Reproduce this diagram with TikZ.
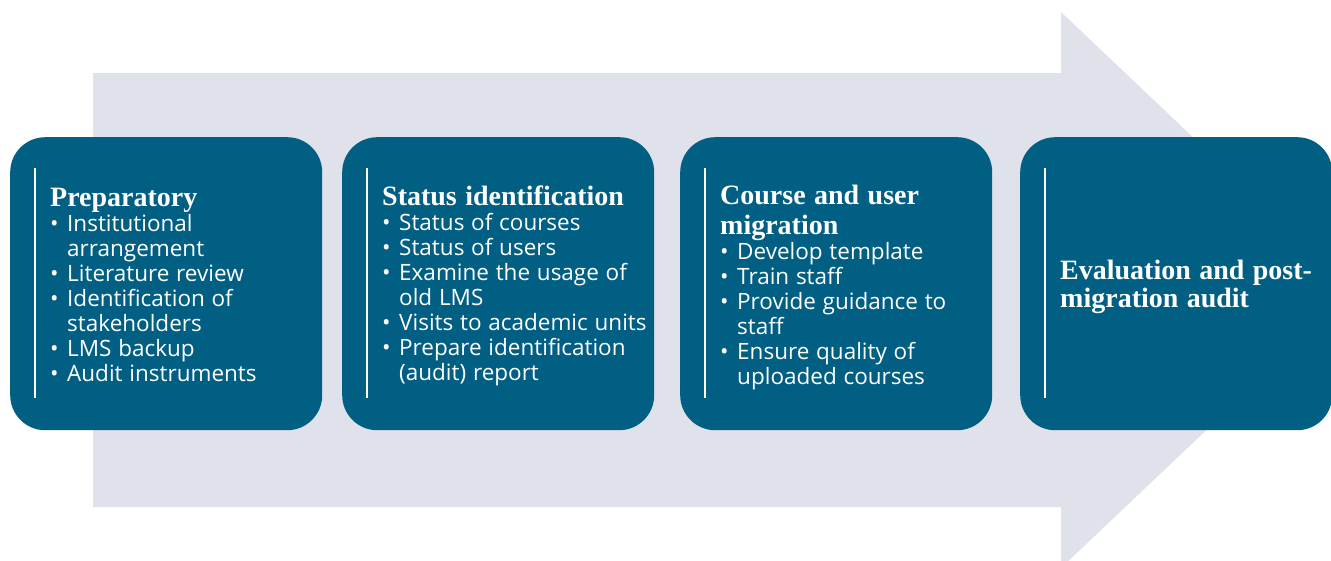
\documentclass[tikz,border=0pt]{standalone}
\usepackage{fontspec}
\setmainfont{Open Sans}
\newfontfamily\headfont{Liberation Serif}
\definecolor{boxblue}{HTML}{005F83}
\definecolor{arrowgray}{HTML}{DFE2EA}
\newcommand{\hd}[2][28]{{\headfont\bfseries\fontsize{28}{#1}\selectfont\spaceskip=0.3em\relax\noindent\rule{0pt}{20pt}#2\par}}
\newcommand{\itm}[1]{\par\fontsize{22.5}{25}\selectfont\spaceskip=0.3em\relax\hangindent=17pt\hangafter=1\noindent\makebox[17pt][l]{•}#1}
\tikzset{
  stage/.style={fill=boxblue, rounded corners=35pt, minimum width=312pt, minimum height=293pt, anchor=north west, inner sep=0pt},
  vline/.style={draw=white, line width=2pt},
  stagetext/.style={anchor=north west, inner sep=0pt, text width=290pt, text=white},
}
\begin{document}
\begin{tikzpicture}[x=1pt,y=-1pt]
\useasboundingbox (0,0) rectangle (1331,560);
\clip (0,0) rectangle (1331,560);
% big arrow
\fill[arrowgray] (93,73) -- (1061,73) -- (1061,12) -- (1354,290) -- (1061,568) -- (1061,507) -- (93,507) -- cycle;
% boxes
\node[stage] (b1) at (10,137) {};
\node[stage] (b2) at (342,137) {};
\node[stage] (b3) at (680,137) {};
\node[stage] (b4) at (1020,137) {};
\foreach \b in {b1,b2,b3,b4}{
  \draw[vline] ([xshift=25pt,yshift=-31pt]\b.north west) -- ([xshift=25pt,yshift=32pt]\b.south west);
}
\node[stagetext] (t1) at ([xshift=40pt,yshift=-49pt]b1.north west) {%
\hd{Preparatory}%
\itm{Institutional\newline arrangement}
\itm{Literature review}
\itm{Identification of\newline stakeholders}
\itm{LMS backup}
\itm{Audit instruments}\par};
\node[stagetext] (t2) at ([xshift=40pt,yshift=-48pt]b2.north west) {%
\hd{Status identification}%
\itm{Status of courses}
\itm{Status of users}
\itm{Examine the usage of\newline old LMS}
\itm{Visits to academic units}
\itm{Prepare identification\newline (audit) report}\par};
\node[stagetext] (t3) at ([xshift=40pt,yshift=-47pt]b3.north west) {%
\hd[30]{Course and user\newline migration}%
\itm{Develop template}
\itm{Train staff}
\itm{Provide guidance to\newline staff}
\itm{Ensure quality of\newline uploaded courses}\par};
\node[stagetext] (t4) at ([xshift=40pt,yshift=-122pt]b4.north west) {%
\hd{Evaluation and post-\newline migration audit}};
\end{tikzpicture}
\end{document}
